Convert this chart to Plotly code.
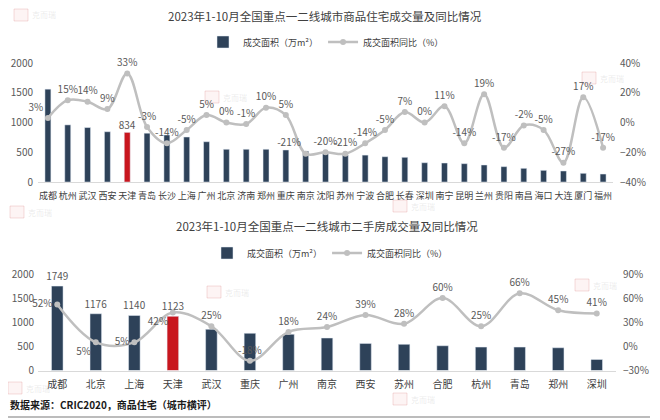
import plotly.graph_objects as go

# ---------------- data ----------------
cities_new = ["成都", "杭州", "武汉", "西安", "天津", "青岛", "长沙", "上海", "广州", "北京",
              "济南", "郑州", "重庆", "南京", "沈阳", "苏州", "宁波", "合肥", "长春", "深圳",
              "南宁", "昆明", "兰州", "贵阳", "南昌", "海口", "大连", "厦门", "福州"]
area_new = [1560, 960, 915, 845, 834, 820, 790, 756, 677, 550,
            550, 550, 538, 521, 482, 454, 452, 425, 415, 324,
            319, 308, 286, 258, 230, 196, 185, 146, 134]
yoy_new = [3, 15, 14, 9, 33, -3, -14, -5, 5, 0,
           -1, 10, 5, -21, -20, -21, -14, -5, 7, 0,
           11, -14, 19, -17, -2, -5, -27, 17, -17]

cities_2nd = ["成都", "北京", "上海", "天津", "武汉", "重庆", "广州", "南京", "西安", "苏州",
              "合肥", "杭州", "青岛", "郑州", "深圳"]
area_2nd = [1749, 1176, 1140, 1123, 854, 771, 750, 673, 562, 542, 513, 485, 485, 471, 229]
yoy_2nd = [52, 5, 5, 42, 25, -18, 18, 24, 39, 28, 60, 25, 66, 45, 41]

title_new = "2023年1-10月全国重点一二线城市商品住宅成交量及同比情况"
title_2nd = "2023年1-10月全国重点一二线城市二手房成交量及同比情况"
legend_bar = "成交面积（万m²）"
legend_line = "成交面积同比（%）"
source_text = "数据来源：CRIC2020，商品住宅（城市横评）"

NAVY = "#2E4259"
RED = "#C8161E"
GRAY_LINE = "#BFBFBF"
FONT = "Noto Sans CJK SC"

# the page body has an 8px margin; size the figure so it fills the 660x420 window
OFF = 8
W, H = 660 - OFF, 420 - OFF

def fy(px):
    return 1 - (px - OFF) / H

def fx(px):
    return (px - OFF) / W

fig = go.Figure()

hl = "天津"
# ---- top chart ----
fig.add_trace(go.Bar(
    x=cities_new, y=area_new, name=legend_bar,
    marker_color=[RED if c == hl else NAVY for c in cities_new],
    text=[str(v) if c == hl else "" for c, v in zip(cities_new, area_new)],
    textposition="outside", cliponaxis=False, constraintext="none",
    textfont=dict(size=10, color="#595959"),
    xaxis="x", yaxis="y", legend="legend", legendrank=1,
))
pos1 = ["top center"] * len(yoy_new)
pos1[0] = "top left"
pos1[cities_new.index("南京")] = "top left"
fig.add_trace(go.Scatter(
    x=cities_new, y=yoy_new, name=legend_line,
    mode="lines+markers+text",
    line=dict(color=GRAY_LINE, width=2.5, shape="spline", smoothing=1.0),
    marker=dict(color=GRAY_LINE, size=6),
    text=[f"{v}%" for v in yoy_new],
    textposition=pos1,
    textfont=dict(size=10, color="#595959"),
    cliponaxis=False,
    xaxis="x", yaxis="y2", legend="legend", legendrank=2,
))

# ---- bottom chart ----
labelled = 4
fig.add_trace(go.Bar(
    x=cities_2nd, y=area_2nd, name=legend_bar,
    marker_color=[RED if c == hl else NAVY for c in cities_2nd],
    text=[str(v) if i < labelled else "" for i, v in enumerate(area_2nd)],
    textposition="outside", cliponaxis=False, constraintext="none",
    textfont=dict(size=10, color="#595959"),
    xaxis="x2", yaxis="y3", legend="legend2", legendrank=1,
))
pos2 = ["middle left", "bottom left", "middle left", "bottom left"] + ["top center"] * (len(yoy_2nd) - 4)
fig.add_trace(go.Scatter(
    x=cities_2nd, y=yoy_2nd, name=legend_line,
    mode="lines+markers+text",
    line=dict(color=GRAY_LINE, width=2.5, shape="spline", smoothing=1.0),
    marker=dict(color=GRAY_LINE, size=6),
    text=[f"{v}%" for v in yoy_2nd],
    textposition=pos2,
    textfont=dict(size=10, color="#595959"),
    cliponaxis=False,
    xaxis="x2", yaxis="y4", legend="legend2", legendrank=2,
))

tickfont = dict(size=10, color="#595959", family=FONT)
catfont_top = dict(size=9, color="#404040", family=FONT)
catfont_bot = dict(size=10, color="#404040", family=FONT)

fig.update_layout(
    width=W, height=H,
    margin=dict(l=0, r=0, t=0, b=0, autoexpand=False),
    paper_bgcolor="white", plot_bgcolor="white",
    font=dict(family=FONT, color="#404040"),
    bargap=0.7,
    xaxis=dict(domain=[fx(38), fx(613)], anchor="y", range=[-0.5, len(cities_new) - 0.5],
               showline=True, linecolor="#D9D9D9", linewidth=1, ticks="", tickangle=0,
               tickfont=catfont_top, showgrid=False, automargin=False, ticklabelstandoff=5),
    yaxis=dict(domain=[fy(182), fy(63)], range=[0, 2000], dtick=500, showgrid=False,
               zeroline=False, tickfont=tickfont, anchor="x", automargin=False,
               ticklabelstandoff=4),
    yaxis2=dict(overlaying="y", side="right", range=[-40, 40], dtick=20, ticksuffix="%",
                showgrid=False, zeroline=False, tickfont=tickfont, anchor="x", automargin=False,
                ticklabelstandoff=6),
    xaxis2=dict(domain=[fx(38), fx(616)], anchor="y3", range=[-0.5, len(cities_2nd) - 0.5],
                showline=True, linecolor="#D9D9D9", linewidth=1, ticks="", tickangle=0,
                tickfont=catfont_bot, showgrid=False, automargin=False, ticklabelstandoff=4),
    yaxis3=dict(domain=[fy(370.5), fy(274)], range=[0, 2000], dtick=500, showgrid=False,
                zeroline=False, tickfont=tickfont, anchor="x2", automargin=False,
                ticklabelstandoff=3),
    yaxis4=dict(overlaying="y3", side="right", range=[-30, 90], dtick=30, ticksuffix="%",
                showgrid=False, zeroline=False, tickfont=tickfont, anchor="x2", automargin=False,
                ticklabelstandoff=6),
    legend=dict(orientation="h", x=fx(326), xanchor="center", y=fy(42), yanchor="middle",
                font=dict(size=9, color="#404040"), bgcolor="rgba(0,0,0,0)"),
    legend2=dict(orientation="h", x=fx(330), xanchor="center", y=fy(253), yanchor="middle",
                 font=dict(size=9, color="#404040"), bgcolor="rgba(0,0,0,0)"),
)

annotations = [
    dict(text=title_new, x=fx(325), y=fy(16), xref="paper", yref="paper", showarrow=False,
         font=dict(size=11.5, color="#404040"), xanchor="center", yanchor="middle"),
    dict(text=title_2nd, x=fx(327), y=fy(226), xref="paper", yref="paper", showarrow=False,
         font=dict(size=11.5, color="#404040"), xanchor="center", yanchor="middle"),
    dict(text="<b>" + source_text + "</b>", x=fx(8), y=fy(404), xref="paper", yref="paper",
         showarrow=False, font=dict(size=10, color="#1a1a1a"), xanchor="left", yanchor="middle"),
]

shapes = [dict(type="line", xref="paper", yref="paper", x0=0, x1=fx(650), y0=fy(417), y1=fy(417),
               line=dict(color="#A6A6A6", width=1.5))]

# faint watermarks
marks = [(14, 15), (205, 97), (582, 78), (10, 212), (393, 206), (207, 292), (575, 285), (8, 388), (393, 399)]
for (mx, my) in marks:
    shapes.append(dict(type="rect", xref="paper", yref="paper",
                       x0=fx(mx), x1=fx(mx + 14), y0=fy(my + 6), y1=fy(my - 6),
                       line=dict(color="rgba(220,120,120,0.25)", width=1),
                       fillcolor="rgba(240,180,180,0.15)", layer="below"))
    annotations.append(dict(text="克而瑞", x=fx(mx + 16), y=fy(my), xref="paper", yref="paper",
                            showarrow=False, xanchor="left", yanchor="middle",
                            font=dict(size=8, color="rgba(170,170,170,0.25)")))

fig.update_layout(annotations=annotations, shapes=shapes)

fig.write_html("out.html")
